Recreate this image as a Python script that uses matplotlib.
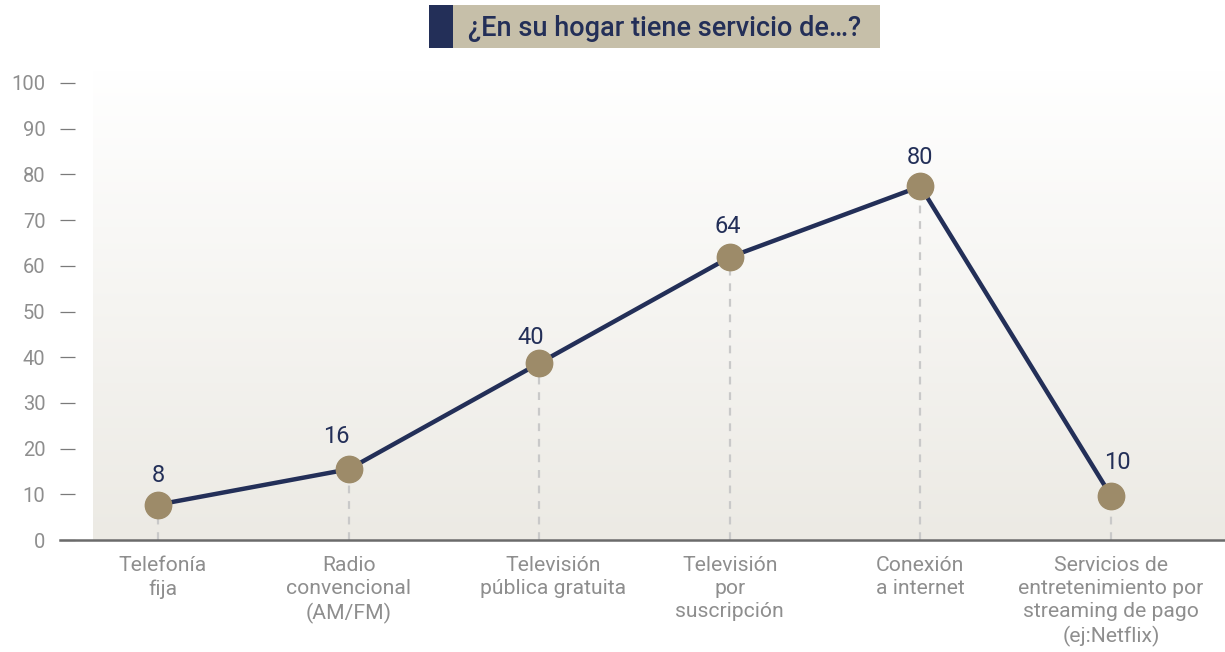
import matplotlib
matplotlib.use('Agg')
import matplotlib.pyplot as plt
import numpy as np
from matplotlib.patches import Rectangle

# ---- data ----
categories = ["Telefonía\nfija",
              "Radio\nconvencional\n(AM/FM)",
              "Televisión\npública gratuita",
              "Televisión\npor\nsuscripción",
              "Conexión\na internet",
              "Servicios de\nentretenimiento por\nstreaming de pago\n(ej:Netflix)"]
values = [8, 16, 40, 64, 80, 10]
y_ticks = [0, 10, 20, 30, 40, 50, 60, 70, 80, 90, 100]
title = "¿En su hogar tiene servicio de…?"

# ---- style ----
NAVY = "#232f58"
GOLD = "#9d8b69"
BEIGE = "#c6bfa9"
GRAY_TXT = "#8e8e8e"
# label offsets (points) as placed in the reference
value_label_offsets = [(0, 21), (-8.6, 23.8), (-5.8, 18.7), (-1.4, 22.3), (0, 21), (4.3, 23.8)]
cat_label_dx = [3.6, 0, 10, 0, 0, 0]

plt.rcParams['font.family'] = ['Roboto', 'DejaVu Sans']

W, H = 1225, 652
fig = plt.figure(figsize=(W / 100, H / 100), dpi=100)
rect = [60 / W, 1 - 540 / H, 1 - 60 / W, 470 / H]

# tick axis (the tick scale in the reference is independent from the data scale)
axt = fig.add_axes(rect, frameon=False)
axt.set_ylim(0, 470 / 4.57)
axt.set_yticks(y_ticks)
axt.set_yticklabels([str(t) for t in y_ticks])
axt.tick_params(axis='y', direction='in', length=10.8, width=0.9, color='#7a7a7a',
                pad=10.5, labelsize=14.5, labelcolor=GRAY_TXT)
axt.set_xticks([])
axt.patch.set_alpha(0)

ax = fig.add_axes(rect)
ax.patch.set_alpha(0)
x = np.arange(len(categories))
x_lo, x_hi = -0.514, 5.598
y_hi = 470 / 4.42

# gradient background panel
grad = np.linspace(0, 1, 256).reshape(-1, 1)
top = np.array([1.0, 1.0, 1.0])
bot = np.array([0xec, 0xea, 0xe4]) / 255
img = top + (bot - top) * grad[:, :, None] * np.ones((1, 1, 3))
ax.imshow(img, extent=[-0.341, x_hi, 0, y_hi], aspect='auto', origin='upper', zorder=0)

ax.vlines(x, 0, values, colors='#c9c9c9', linestyles=(0, (3.5, 3.5)), lw=1.6, zorder=2)
ax.plot(x, values, color=NAVY, lw=3.2, zorder=3, solid_capstyle='round')
ax.plot(x, values, 'o', ms=19, color=GOLD, zorder=4)
for xi, v, off in zip(x, values, value_label_offsets):
    ax.annotate(str(v), (xi, v), xytext=off, textcoords='offset points',
                ha='center', va='center', fontsize=17, color=NAVY, zorder=5)

ax.set_xlim(x_lo, x_hi)
ax.set_ylim(0, y_hi)
ax.set_yticks([])
ax.set_xticks([])
for xi, cat, dx in zip(x, categories, cat_label_dx):
    ax.annotate(cat, (xi, 0), xycoords=('data', 'axes fraction'), xytext=(dx, -11.5),
                textcoords='offset points', ha='center', va='top', fontsize=15.2,
                color=GRAY_TXT, linespacing=1.28, annotation_clip=False)
for s in ['top', 'right', 'left']:
    ax.spines[s].set_visible(False)
ax.spines['bottom'].set_color('#6b6b6b')
ax.spines['bottom'].set_linewidth(1.8)

# title box
fig.patches.append(Rectangle((429 / W, 1 - 48 / H), (880 - 429) / W, 43 / H,
                             transform=fig.transFigure, facecolor=BEIGE, edgecolor='none'))
fig.patches.append(Rectangle((429 / W, 1 - 48 / H), (453 - 429) / W, 43 / H,
                             transform=fig.transFigure, facecolor=NAVY, edgecolor='none'))
fig.text(468 / W, 1 - 36 / H, title, ha='left', va='baseline', fontsize=19.5,
         fontweight='medium', color=NAVY)

fig.savefig('out.png', dpi=100)
